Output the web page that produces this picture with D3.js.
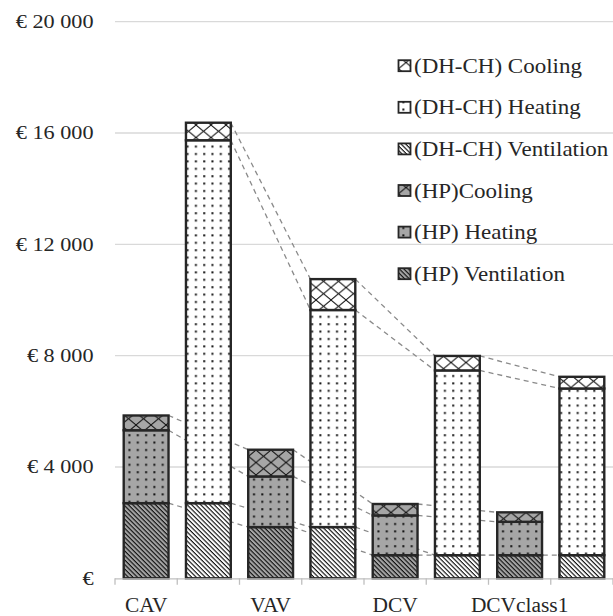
<!DOCTYPE html>
<html>
<head>
<meta charset="utf-8">
<script src="https://cdn.jsdelivr.net/npm/d3@7"></script>
<style>
  html, body { margin: 0; padding: 0; background: #fff; }
  svg { display: block; }
</style>
</head>
<body>
<svg id="chart" width="613" height="616"></svg>
<script>
// Annual cost per ventilation scheme, split by system (HP / DH-CH) and end use
const schemes = ["CAV", "VAV", "DCV", "DCVclass1"];
const systems = ["HP", "DH-CH"];
const hpVentilation = [2700, 1840, 830, 830];
const hpHeating     = [2620, 1820, 1430, 1200];
const hpCooling     = [530, 960, 410, 340];
const dhVentilation = [2700, 1840, 830, 830];
const dhHeating     = [13040, 7800, 6640, 5990];
const dhCooling     = [630, 1110, 520, 420];
const yTicks = [0, 4000, 8000, 12000, 16000, 20000];
const uses = ["Ventilation", "Heating", "Cooling"];
const legendLabels = [
  "(DH-CH) Cooling", "(DH-CH) Heating", "(DH-CH) Ventilation",
  "(HP)Cooling", "(HP) Heating", "(HP) Ventilation"
];

const FONT = '"Liberation Serif"';
const svg = d3.select("#chart");
const plot = { left: 115, right: 613, top: 21.7, bottom: 578.3 };

// one column per scheme × system
const columns = [];
schemes.forEach((s, i) => {
  columns.push({ scheme: s, system: "HP", key: s + "|HP",
    values: [hpVentilation[i], hpHeating[i], hpCooling[i]] });
  columns.push({ scheme: s, system: "DH-CH", key: s + "|DH-CH",
    values: [dhVentilation[i], dhHeating[i], dhCooling[i]] });
});
columns.forEach(c => {
  let acc = 0;
  c.segs = c.values.map((v, j) => { const s = { use: uses[j], y0: acc, y1: acc + v, system: c.system }; acc += v; return s; });
});

const x = d3.scaleBand().domain(columns.map(c => c.key))
  .range([plot.left, plot.right]).paddingInner(0.28).paddingOuter(0.14);
const y = d3.scaleLinear().domain([0, 20000]).range([plot.bottom, plot.top]);

// ---- fill patterns ----
const defs = svg.append("defs");
const bgFor = { "HP": "#a6a6a6", "DH-CH": "#ffffff" };
function patId(system, use) { return "p-" + system.replace(/[^A-Za-z]/g, "") + "-" + use; }
systems.forEach(sys => {
  const bg = bgFor[sys];
  // Ventilation: fine downward diagonal stripes
  let p = defs.append("pattern").attr("id", patId(sys, "Ventilation"))
    .attr("patternUnits", "userSpaceOnUse").attr("width", 3.2).attr("height", 3.2)
    .attr("patternTransform", "rotate(45)");
  p.append("rect").attr("width", 3.2).attr("height", 3.2).attr("fill", bg);
  p.append("rect").attr("width", 3.2).attr("height", 1.15).attr("fill", "#111");
  // Heating: sparse dots
  p = defs.append("pattern").attr("id", patId(sys, "Heating"))
    .attr("patternUnits", "userSpaceOnUse").attr("width", 8.3).attr("height", 7.4)
    .attr("x", 1).attr("y", 2);
  p.append("rect").attr("width", 8.3).attr("height", 7.4).attr("fill", bg);
  p.append("rect").attr("x", 3).attr("y", 3).attr("width", 2).attr("height", 2).attr("fill", "#111");
  // Cooling: diamond lattice
  p = defs.append("pattern").attr("id", patId(sys, "Cooling"))
    .attr("patternUnits", "userSpaceOnUse").attr("width", 15).attr("height", 12.5)
    .attr("x", 1);
  p.append("rect").attr("width", 15).attr("height", 12.5).attr("fill", bg);
  p.append("path").attr("d", "M0,0L15,12.5M15,0L0,12.5")
    .attr("stroke", "#111").attr("stroke-width", 1).attr("fill", "none");
});

// ---- gridlines ----
svg.append("g").selectAll("line").data(yTicks.filter(t => t > 0)).join("line")
  .attr("x1", plot.left).attr("x2", plot.right)
  .attr("y1", d => y(d)).attr("y2", d => y(d))
  .attr("stroke", "#d9d9d9").attr("stroke-width", 1.3);

// ---- y tick labels ----
const fmt = d3.formatLocale({ decimal: ",", thousands: " ", grouping: [3], currency: ["", ""] }).format(",d");
svg.append("g").selectAll("text").data(yTicks).join("text")
  .attr("transform", d => `translate(93.5,${y(d) + 6.2}) scale(1.17,1)`)
  .attr("text-anchor", "end").attr("font-size", 19)
  .style("font-family", FONT).attr("fill", "#262626")
  .text(d => d === 0 ? "€" : "€ " + fmt(d));

// ---- series lines linking matching segments of the same system ----
const links = [];
columns.forEach((c, i) => {
  const n = columns[i + 2];
  if (!n) return;
  c.segs.forEach((s, j) => links.push({ x1: x(c.key) + x.bandwidth(), y1: y(s.y1), x2: x(n.key), y2: y(n.segs[j].y1) }));
});
svg.append("g").selectAll("line").data(links).join("line")
  .attr("x1", d => d.x1).attr("y1", d => d.y1).attr("x2", d => d.x2).attr("y2", d => d.y2)
  .attr("stroke", "#8a8a8a").attr("stroke-width", 1.3).attr("stroke-dasharray", "5,4");

// ---- bars ----
const gBars = svg.append("g");
columns.forEach(c => {
  gBars.selectAll(null).data(c.segs).join("rect")
    .attr("x", x(c.key)).attr("width", x.bandwidth())
    .attr("y", d => y(d.y1)).attr("height", d => y(d.y0) - y(d.y1))
    .attr("fill", d => `url(#${patId(d.system, d.use)})`)
    .attr("stroke", "#262626").attr("stroke-width", 2.4);
});

// ---- category axis ----
const gx = svg.append("g");
gx.append("line").attr("x1", plot.left).attr("x2", plot.right)
  .attr("y1", plot.bottom + 0.5).attr("y2", plot.bottom + 0.5)
  .attr("stroke", "#bfbfbf").attr("stroke-width", 1.3);
const edges = columns.map(c => x(c.key) - x.step() * x.paddingInner() / 2);
edges.push(plot.right);
gx.selectAll("line.tick").data(edges).join("line").attr("class", "tick")
  .attr("x1", d => d).attr("x2", d => d)
  .attr("y1", plot.bottom).attr("y2", plot.bottom + 6.5)
  .attr("stroke", "#bfbfbf").attr("stroke-width", 1.3);
gx.selectAll("text").data(columns.filter(c => c.system === "HP")).join("text")
  .attr("transform", d => `translate(${x(d.key) + x.bandwidth() / 2},611.5) scale(1.07,1)`)
  .attr("text-anchor", "middle").attr("font-size", 20)
  .style("font-family", FONT).attr("fill", "#262626")
  .text(d => d.scheme);

// ---- legend ----
const legendItems = [
  ["DH-CH", "Cooling"], ["DH-CH", "Heating"], ["DH-CH", "Ventilation"],
  ["HP", "Cooling"], ["HP", "Heating"], ["HP", "Ventilation"]
];
const gl = svg.append("g");
legendItems.forEach(([sys, use], i) => {
  const base = 72.7 + 41.6 * i;
  gl.append("rect").attr("x", 398.5).attr("y", base - 12.5).attr("width", 12).attr("height", 11)
    .attr("fill", `url(#${patId(sys, use)})`)
    .attr("stroke", "#262626").attr("stroke-width", 1.8);
  gl.append("text").attr("transform", `translate(414,${base}) scale(1.15,1)`)
    .attr("font-size", 20).style("font-family", FONT).attr("fill", "#262626")
    .text(legendLabels[i]);
});
</script>
</body>
</html>
